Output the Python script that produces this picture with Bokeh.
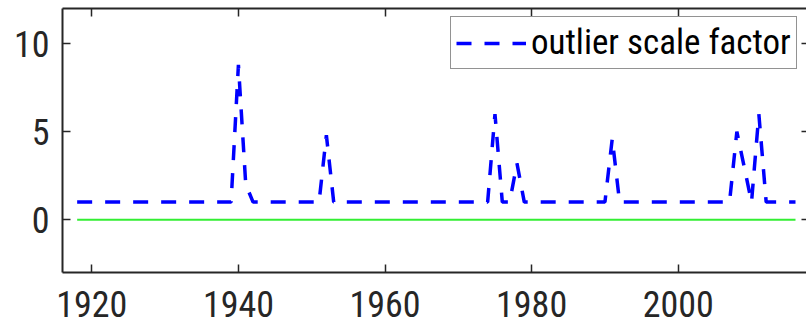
from bokeh.plotting import figure
from bokeh.models import LinearAxis, FixedTicker, Range1d
from bokeh.embed import file_html
from bokeh.resources import INLINE

# ---- data ----
years = [
    1918, 1919, 1920, 1921, 1922, 1923, 1924, 1925, 1926, 1927,
    1928, 1929, 1930, 1931, 1932, 1933, 1934, 1935, 1936, 1937,
    1938, 1939, 1940, 1941, 1942, 1943, 1944, 1945, 1946, 1947,
    1948, 1949, 1950, 1951, 1952, 1953, 1954, 1955, 1956, 1957,
    1958, 1959, 1960, 1961, 1962, 1963, 1964, 1965, 1966, 1967,
    1968, 1969, 1970, 1971, 1972, 1973, 1974, 1975, 1976, 1977,
    1978, 1979, 1980, 1981, 1982, 1983, 1984, 1985, 1986, 1987,
    1988, 1989, 1990, 1991, 1992, 1993, 1994, 1995, 1996, 1997,
    1998, 1999, 2000, 2001, 2002, 2003, 2004, 2005, 2006, 2007,
    2008, 2009, 2010, 2011, 2012, 2013, 2014, 2015, 2016,
]
scale_factor = [
    1.0, 1.0, 1.0, 1.0, 1.0, 1.0, 1.0, 1.0, 1.0, 1.0,
    1.0, 1.0, 1.0, 1.0, 1.0, 1.0, 1.0, 1.0, 1.0, 1.0,
    1.0, 1.0, 8.8, 2.0, 1.0, 1.0, 1.0, 1.0, 1.0, 1.0,
    1.0, 1.0, 1.0, 1.0, 4.8, 1.0, 1.0, 1.0, 1.0, 1.0,
    1.0, 1.0, 1.0, 1.0, 1.0, 1.0, 1.0, 1.0, 1.0, 1.0,
    1.0, 1.0, 1.0, 1.0, 1.0, 1.0, 1.0, 6.0, 1.0, 1.0,
    3.2, 1.0, 1.0, 1.0, 1.0, 1.0, 1.0, 1.0, 1.0, 1.0,
    1.0, 1.0, 1.0, 4.6, 1.0, 1.0, 1.0, 1.0, 1.0, 1.0,
    1.0, 1.0, 1.0, 1.0, 1.0, 1.0, 1.0, 1.0, 1.0, 1.0,
    5.0, 3.0, 1.0, 6.0, 1.0, 1.0, 1.0, 1.0, 1.0,
]
zero_line = [
    0.0, 0.0, 0.0, 0.0, 0.0, 0.0, 0.0, 0.0, 0.0, 0.0,
    0.0, 0.0, 0.0, 0.0, 0.0, 0.0, 0.0, 0.0, 0.0, 0.0,
    0.0, 0.0, 0.0, 0.0, 0.0, 0.0, 0.0, 0.0, 0.0, 0.0,
    0.0, 0.0, 0.0, 0.0, 0.0, 0.0, 0.0, 0.0, 0.0, 0.0,
    0.0, 0.0, 0.0, 0.0, 0.0, 0.0, 0.0, 0.0, 0.0, 0.0,
    0.0, 0.0, 0.0, 0.0, 0.0, 0.0, 0.0, 0.0, 0.0, 0.0,
    0.0, 0.0, 0.0, 0.0, 0.0, 0.0, 0.0, 0.0, 0.0, 0.0,
    0.0, 0.0, 0.0, 0.0, 0.0, 0.0, 0.0, 0.0, 0.0, 0.0,
    0.0, 0.0, 0.0, 0.0, 0.0, 0.0, 0.0, 0.0, 0.0, 0.0,
    0.0, 0.0, 0.0, 0.0, 0.0, 0.0, 0.0, 0.0, 0.0,
]
x_ticks = [1920, 1940, 1960, 1980, 2000]
y_ticks = [0, 5, 10]
series_label = "outlier scale factor"

FONT = "Roboto Condensed, Liberation Sans, Arial, sans-serif"
AX = "#262626"

p = figure(width=806, height=333, output_backend="svg", toolbar_location=None,
           x_range=Range1d(1916, 2017.5), y_range=Range1d(-3, 12),
           x_axis_type=None, y_axis_type=None,
           min_border_left=62, min_border_right=0, min_border_top=8, min_border_bottom=61)
p.outline_line_color = None
p.xgrid.visible = False
p.ygrid.visible = False
p.background_fill_color = "white"
p.border_fill_color = "white"


def style_axis(ax, ticks, show_labels, tick_in, standoff=0, line=True):
    ax.ticker = FixedTicker(ticks=ticks)
    ax.major_tick_in = tick_in
    ax.major_tick_out = 0
    ax.minor_tick_line_color = None
    ax.major_tick_line_color = AX
    ax.major_tick_line_width = 1.5
    ax.axis_line_color = AX if line else None
    ax.axis_line_width = 2
    if show_labels:
        ax.major_label_text_font = FONT
        ax.major_label_text_font_size = "36px"
        ax.major_label_text_color = AX
        ax.major_label_standoff = standoff
    else:
        ax.major_label_text_font_size = "1px"
        ax.major_label_text_color = None
        ax.major_label_standoff = 0


bottom = LinearAxis()
style_axis(bottom, x_ticks, True, 8, standoff=18)
p.add_layout(bottom, "below")
left = LinearAxis()
style_axis(left, y_ticks, True, 8, standoff=13)
p.add_layout(left, "left")
top = LinearAxis()
style_axis(top, x_ticks, False, 8)
p.add_layout(top, "above")
right = LinearAxis()
style_axis(right, y_ticks, False, 5, line=False)
p.add_layout(right, "right")

p.line(years, zero_line, line_color="#33ee33", line_width=2)
p.line(years, scale_factor, line_color="#0000ff", line_width=3.5,
       line_dash="15 13", legend_label=series_label)

lg = p.legend[0]
lg.location = (388, 203)
lg.margin = 0
lg.label_text_font = FONT
lg.label_text_font_size = "35px"
lg.label_text_color = "#000000"
lg.glyph_width = 70
lg.label_standoff = 5
lg.padding = 5
lg.spacing = 0
lg.border_line_color = AX
lg.border_line_width = 1
lg.background_fill_alpha = 1.0

open("out.html", "w").write(file_html(p, INLINE))
